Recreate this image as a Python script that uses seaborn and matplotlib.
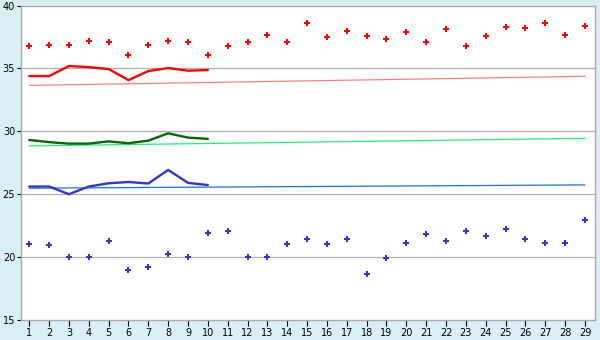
import matplotlib
matplotlib.use("Agg")
import matplotlib.pyplot as plt
import seaborn as sns
import pandas as pd

days = list(range(1, 30))
red_points = [36.75, 36.9, 36.83, 37.14, 37.06, 36.03, 36.9, 37.14, 37.06, 36.03,
              36.75, 37.06, 37.62, 37.06, 38.57, 37.46, 37.94, 37.54, 37.3, 37.86,
              37.06, 38.17, 36.75, 37.54, 38.33, 38.25, 38.57, 37.62, 38.41]
blue_points = [21.03, 20.95, 20.0, 20.0, 21.27, 18.97, 19.2, 20.24, 20.0, 21.9,
               22.06, 20.0, 20.0, 21.03, 21.43, 21.03, 21.43, 18.65, 19.92, 21.11,
               21.83, 21.27, 22.06, 21.67, 22.22, 21.43, 21.11, 21.11, 22.94]
line_days = list(range(1, 11))
red_line = [34.39, 34.39, 35.19, 35.1, 34.95, 34.07, 34.79, 35.03, 34.82, 34.87]
green_line = [29.31, 29.14, 29.02, 29.02, 29.2, 29.05, 29.26, 29.84, 29.5, 29.4]
blue_line = [25.61, 25.61, 25.0, 25.61, 25.87, 25.97, 25.85, 26.93, 25.9, 25.73]
trend_days = [1, 29]
red_trend = [33.65, 34.37]
green_trend = [28.84, 29.44]
blue_trend = [25.48, 25.74]

sns.set_theme(style="white")
plt.rcParams['font.family'] = ['DejaVu Sans']

fig = plt.figure(figsize=(6, 3.4), dpi=100, facecolor="#daeef5")
ax = fig.add_axes([0.0345, 0.0588, 0.957, 0.925])
ax.set_facecolor("white")

for y in [20, 25, 30, 35]:
    ax.axhline(y, color="#b0b0b0", lw=0.9, zorder=0)

sns.lineplot(x=trend_days, y=red_trend, color="#ff7f7f", lw=0.9, ax=ax)
sns.lineplot(x=trend_days, y=green_trend, color="#1af07f", lw=0.9, ax=ax)
sns.lineplot(x=trend_days, y=blue_trend, color="#1a70e0", lw=0.9, ax=ax)

sns.lineplot(x=line_days, y=red_line, color="#ff0000", lw=1.7, ax=ax)
sns.lineplot(x=line_days, y=green_line, color="#006a00", lw=1.7, ax=ax)
sns.lineplot(x=line_days, y=blue_line, color="#3535cc", lw=1.7, ax=ax)

sns.scatterplot(x=days, y=red_points, color="#ff0000", marker="P", s=15,
                linewidth=0, ax=ax)
sns.scatterplot(x=days, y=blue_points, color="#3535cc", marker="P", s=15,
                linewidth=0, ax=ax)

ax.set_xlim(0.57, 29.5)
ax.set_ylim(15, 40)
ax.set_xticks(days)
ax.set_yticks([15, 20, 25, 30, 35, 40])
ax.tick_params(axis="both", labelsize=7, colors="black", width=0.8,
               direction="out")
ax.tick_params(axis="x", length=4, pad=2)
ax.tick_params(axis="y", length=3, pad=1)
ax.tick_params(axis="both", which="both", bottom=True, left=True)
for s in ax.spines.values():
    s.set_color("#aaaaaa")
    s.set_linewidth(1)
ax.set_xlabel("")
ax.set_ylabel("")

fig.savefig("out.png", dpi=100, facecolor=fig.get_facecolor())
